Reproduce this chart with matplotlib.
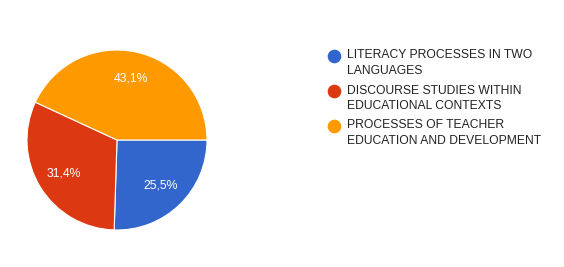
import matplotlib
matplotlib.use("Agg")
import matplotlib.pyplot as plt
from matplotlib.lines import Line2D

plt.rcParams["font.family"] = ["Liberation Sans", "DejaVu Sans"]

labels = [
    "LITERACY PROCESSES IN TWO\nLANGUAGES",
    "DISCOURSE STUDIES WITHIN\nEDUCATIONAL CONTEXTS",
    "PROCESSES OF TEACHER\nEDUCATION AND DEVELOPMENT",
]
shares = [25.5, 31.4, 43.1]
colors = ["#3366cc", "#dc3912", "#ff9900"]

W, H = 564, 267
fig = plt.figure(figsize=(W / 100, H / 100), dpi=100)

# pie: centre (117, 140) px, radius 90 px
ax = fig.add_axes([27 / W, (H - 230) / H, 180 / W, 180 / H])
wedges, texts, autotexts = ax.pie(
    shares,
    colors=colors,
    startangle=0,
    counterclock=False,
    radius=1.0,
    autopct=lambda p: f"{p:.1f}%".replace(".", ","),
    pctdistance=0.7,
    wedgeprops=dict(edgecolor="white", linewidth=0.8),
    textprops=dict(color="white", fontsize=8.8),
)
ax.set_xlim(-1, 1)
ax.set_ylim(-1, 1)
ax.set_aspect("equal")
ax.axis("off")

# legend, drawn by hand so the dot lines up with the first text line
lax = fig.add_axes([0, 0, 1, 1])
lax.set_xlim(0, W)
lax.set_ylim(H, 0)
lax.axis("off")
y0, step = 56, 35
for i, (lab, col) in enumerate(zip(labels, colors)):
    y = y0 + i * step
    lax.add_line(Line2D([334], [y], marker="o", markersize=8.8,
                        color=col, linestyle="none"))
    lax.text(347, y - 6.5, lab, fontsize=8.7, color="#222222",
             va="top", ha="left", linespacing=1.38)

fig.savefig("out.png", dpi=100)
